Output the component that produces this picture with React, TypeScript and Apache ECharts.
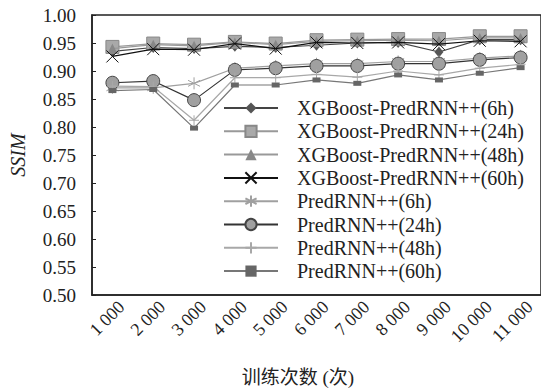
import React, { useEffect, useRef } from "react";
import * as echarts from "echarts";

const categories = ["1 000", "2 000", "3 000", "4 000", "5 000", "6 000", "7 000", "8 000", "9 000", "10 000", "11 000"];
const yTicks = [0.5, 0.55, 0.6, 0.65, 0.7, 0.75, 0.8, 0.85, 0.9, 0.95, 1.0];

const xgb6h = [0.935, 0.942, 0.940, 0.944, 0.942, 0.946, 0.950, 0.951, 0.934, 0.956, 0.956];
const xgb24h = [0.943, 0.949, 0.947, 0.952, 0.949, 0.955, 0.956, 0.957, 0.957, 0.962, 0.962];
const xgb48h = [0.940, 0.947, 0.945, 0.951, 0.947, 0.953, 0.954, 0.955, 0.954, 0.959, 0.959];
const xgb60h = [0.926, 0.939, 0.938, 0.949, 0.940, 0.951, 0.950, 0.951, 0.948, 0.954, 0.953];
const pr6h = [0.870, 0.870, 0.878, 0.905, 0.909, 0.913, 0.913, 0.917, 0.917, 0.923, 0.927];
const pr24h = [0.879, 0.882, 0.848, 0.902, 0.905, 0.909, 0.909, 0.913, 0.913, 0.920, 0.924];
const pr48h = [0.873, 0.872, 0.812, 0.888, 0.888, 0.894, 0.889, 0.900, 0.893, 0.905, 0.912];
const pr60h = [0.865, 0.867, 0.798, 0.875, 0.875, 0.884, 0.878, 0.893, 0.884, 0.896, 0.906];

const names = [
  "XGBoost-PredRNN++(6h)",
  "XGBoost-PredRNN++(24h)",
  "XGBoost-PredRNN++(48h)",
  "XGBoost-PredRNN++(60h)",
  "PredRNN++(6h)",
  "PredRNN++(24h)",
  "PredRNN++(48h)",
  "PredRNN++(60h)",
];

const xAxisName = "训练次数 (次)";
const yAxisName = "SSIM";

const X_PATH = "path://M0,0L10,10M10,0L0,10";
const AST_PATH = "path://M5,0L5,10M0.7,2.5L9.3,7.5M0.7,7.5L9.3,2.5";
const PLUS_PATH = "path://M5,0L5,10M0,5L10,5";

const serif = "'Liberation Serif', 'Times New Roman', serif";

export default function App() {
  const ref = useRef<HTMLDivElement>(null);
  useEffect(() => {
    if (!ref.current) return;
    const chart = echarts.init(ref.current, undefined, { renderer: "svg" });
    const mk = (name: string, data: number[], symbol: string, symbolSize: any, lineColor: string, item: any, z: number) => ({
      name,
      type: "line",
      data,
      symbol,
      symbolSize,
      z,
      lineStyle: { color: lineColor, width: 1.2 },
      itemStyle: item,
      emphasis: { disabled: true },
    });
    const series = [
      mk(names[0], xgb6h, "diamond", [9, 11], "#444", { color: "#555", borderColor: "#555", borderWidth: 0 }, 2),
      mk(names[1], xgb24h, "rect", 13, "#999", { color: "#a9a9a9", borderColor: "#888", borderWidth: 1 }, 3),
      mk(names[2], xgb48h, "triangle", 10, "#999", { color: "#888", borderColor: "#888", borderWidth: 0 }, 4),
      mk(names[3], xgb60h, X_PATH, 12, "#111", { color: "#111", borderColor: "#111", borderWidth: 1 }, 5),
      mk(names[4], pr6h, AST_PATH, 12, "#a0a0a0", { color: "#a0a0a0", borderColor: "#a0a0a0", borderWidth: 1 }, 2),
      mk(names[5], pr24h, "circle", 13, "#333", { color: "#a0a0a0", borderColor: "#444", borderWidth: 1 }, 3),
      mk(names[6], pr48h, PLUS_PATH, 10, "#a8a8a8", { color: "#a8a8a8", borderColor: "#a8a8a8", borderWidth: 1 }, 4),
      mk(names[7], pr60h, "rect", [8, 5], "#777", { color: "#666", borderColor: "#666", borderWidth: 0 }, 5),
    ];
    chart.setOption({
      animation: false,
      backgroundColor: "#fff",
      grid: {
        left: 90,
        top: 15,
        bottom: 93,
        right: -3,
        show: true,
        borderColor: "#222",
        borderWidth: 1.5,
        backgroundColor: "transparent",
      },
      legend: {
        orient: "vertical",
        left: 223,
        top: 98,
        padding: 0,
        itemWidth: 54,
        itemHeight: 14,
        itemGap: 3.3,
        data: names,
        textStyle: { fontFamily: serif, fontSize: 20, color: "#222", padding: [0, 0, 0, 14] },
      },
      xAxis: {
        type: "category",
        data: categories,
        boundaryGap: true,
        axisLine: { lineStyle: { color: "#222", width: 1.5 } },
        axisTick: { inside: true, length: 5, alignWithLabel: false, lineStyle: { color: "#222" } },
        axisLabel: { show: false },
        splitLine: { show: false },
      },
      yAxis: {
        type: "value",
        min: 0.5,
        max: 1.0,
        interval: 0.05,
        name: yAxisName,
        nameLocation: "middle",
        nameGap: 64,
        nameTextStyle: { fontFamily: serif, fontStyle: "italic", fontSize: 20, color: "#222" },
        axisLine: { show: true, lineStyle: { color: "#222", width: 1.5 } },
        axisTick: { show: true, inside: true, length: 4, lineStyle: { color: "#222" } },
        axisLabel: {
          fontFamily: serif,
          fontSize: 19,
          color: "#222",
          margin: 16,
          formatter: (v: number) => {
            const t = yTicks.find((k) => Math.abs(k - v) < 1e-6);
            return (t !== undefined ? t : v).toFixed(2);
          },
        },
        splitLine: { show: false },
      },
      series,
    });

    const axisY = chart.convertToPixel({ yAxisIndex: 0 }, yTicks[0]) as number;
    const labels = categories.map((c, i) => {
      const cx = chart.convertToPixel({ xAxisIndex: 0 }, i) as number;
      return {
        type: "text",
        x: cx + 9,
        y: axisY + 9,
        rotation: Math.PI / 4,
        silent: true,
        style: {
          text: c,
          font: "18px " + serif,
          fill: "#222",
          align: "right",
          verticalAlign: "middle",
        },
      };
    });
    chart.setOption({
      graphic: [
        ...labels,
        {
          type: "text",
          x: 298,
          y: 377,
          silent: true,
          style: {
            text: xAxisName,
            font: "19px 'Liberation Serif', 'Noto Sans CJK SC', serif",
            fill: "#222",
            align: "center",
            verticalAlign: "middle",
          },
        },
      ],
    });
    return () => chart.dispose();
  }, []);
  return <div ref={ref} style={{ position: "absolute", left: 0, top: 0, width: 541, height: 388 }} />;
}
